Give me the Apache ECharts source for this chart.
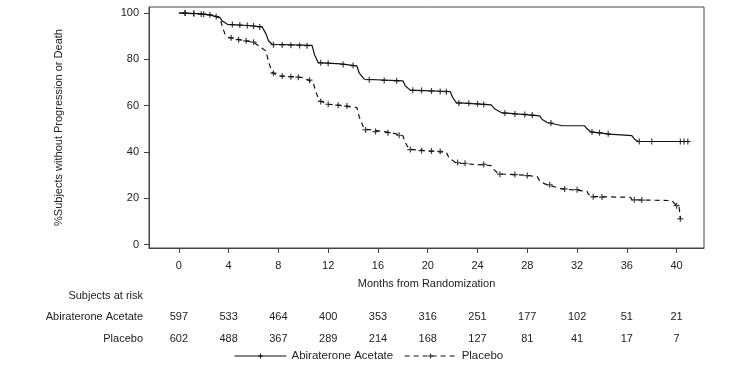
<!DOCTYPE html>
<html><head><meta charset="utf-8">
<script src="https://cdn.jsdelivr.net/npm/echarts@6/dist/echarts.min.js"></script>
<style>html,body{margin:0;padding:0;background:#fff}#c{width:747px;height:387px}</style>
</head><body><div id="c"></div>
<script>
const xTicks = [0,4,8,12,16,20,24,28,32,36,40];
const yTicks = [0,20,40,60,80,100];
const riskAbi = [597,533,464,400,353,316,251,177,102,51,21];
const riskPbo = [602,488,367,289,214,168,127,81,41,17,7];

const abiTime = [0,1.5,2.5,3.3,3.5,3.9,5.5,6.7,7.0,7.2,7.5,10.7,10.9,11.2,13.0,14.3,14.5,14.9,18.0,18.2,18.6,21.8,22.0,22.3,25.1,25.4,25.9,29.0,29.2,29.6,30.8,32.6,32.8,33.1,34.6,36.4,36.6,36.9,41.0];
const abiSurv = [100,99.7,99.2,98.0,96.5,95.1,94.6,94.0,91,88,86.5,86.0,82,78.6,78.0,77.2,74,71.4,70.7,68.5,66.7,66.1,63.5,61.3,60.3,58.5,57.0,55.6,54,52.7,51.3,51.3,50,48.7,47.7,47.0,45.6,44.5,44.5];

const pboTime = [0,1.5,2.5,3.3,3.5,3.7,4.0,5.0,6.0,7.0,7.2,7.5,8.1,10.0,10.8,11.0,11.3,12.0,14.3,14.5,14.9,17.0,18.0,18.2,18.5,20.0,21.5,21.7,22.2,22.7,25.1,25.3,25.7,27.8,28.8,29.0,29.4,30.8,31.7,32.8,32.9,33.2,36.3,36.4,39.6,40.0,40.2,40.3];
const pboSurv = [100,99.7,99.2,98.0,94,91,89.5,88.3,87.4,83.6,79,74.3,72.8,72.1,70.0,66,62.1,60.6,59.2,55,49.9,48.4,47.0,44,41.2,40.4,39.8,37.5,35.5,35.0,34.1,32.5,30.5,30.0,29.3,27.5,26.2,24.0,23.6,23.0,21.8,20.7,20.4,19.3,19.0,16.8,16.1,11.1];

const abiCensorTime = [0.5,1.2,1.8,2.5,3.0,4.3,4.9,5.5,6.0,6.5,7.6,8.3,9.0,9.7,10.3,11.4,12.0,13.2,14.0,15.3,16.5,17.5,18.8,19.5,20.3,21.0,21.5,22.5,23.3,24.0,24.5,26.2,27.0,27.8,28.4,29.9,33.2,33.8,34.5,37.0,38.0,40.3,40.6,40.9];
const abiCensorSurv = [100,99.8,99.6,99.2,98.5,95.0,94.8,94.6,94.4,94.0,86.3,86.2,86.1,86.0,85.9,78.5,78.3,77.8,77.3,71.2,70.9,70.7,66.6,66.5,66.3,66.1,66.0,61.1,61.0,60.8,60.5,56.8,56.4,56.2,55.9,52.5,48.6,48.3,47.8,44.5,44.5,44.5,44.5,44.5];
const pboCensorTime = [0.5,1.2,2.0,4.2,4.8,5.4,6.0,7.6,8.3,9.0,9.6,10.5,11.4,12.0,12.8,13.5,15.0,15.8,16.8,17.7,18.6,19.5,20.3,21.0,22.4,23.0,24.5,25.8,27.0,28.0,29.8,31.0,32.0,33.3,34.0,36.6,37.2,40.0,40.3];
const pboCensorSurv = [100,99.8,99.5,89.3,88.5,88.0,87.4,74.0,72.8,72.5,72.3,71.0,61.8,60.6,60.2,59.8,49.5,48.8,48.3,47.2,41.0,40.6,40.4,40.2,35.4,35.1,34.6,30.4,30.2,29.8,25.8,24.0,23.7,20.6,20.5,19.3,19.2,16.8,11.1];

const zip = (a,b) => a.map((v,i)=>[v,b[i]]);
const plus = 'path://M-0.6,-3H0.6V-0.6H3V0.6H0.6V3H-0.6V0.6H-3V-0.6H-0.6Z';
const FONT = "'Liberation Sans', Arial, sans-serif";
const TXT = '#222';
const AX = '#444';

const chart = echarts.init(document.getElementById('c'));
const riskAxis = (arr, off) => ({
  type:'value', gridIndex:0, position:'bottom', offset:off, min:-2.4, max:42.2,
  axisLine:{show:false,onZero:false}, axisTick:{show:false}, splitLine:{show:false},
  axisLabel:{customValues:xTicks, margin:0, fontSize:11, fontFamily:FONT, color:TXT,
    formatter:v=>{const i=xTicks.indexOf(Math.round(v)); return i>=0? String(arr[i]) : '';}}
});
chart.setOption({
  animation:false,
  textStyle:{fontFamily:FONT},
  grid:{left:149,right:43,top:7,bottom:139,show:true,borderColor:AX,borderWidth:1,backgroundColor:'transparent'},
  xAxis:[{
    type:'value', min:-2.4, max:42.2,
    axisLine:{show:true,onZero:false,lineStyle:{color:AX}},
    axisTick:{show:true,customValues:xTicks,length:5,lineStyle:{color:AX}},
    axisLabel:{customValues:xTicks,margin:12,fontSize:11,fontFamily:FONT,color:TXT},
    splitLine:{show:false},
    name:'Months from Randomization', nameLocation:'middle', nameGap:30,
    nameTextStyle:{fontSize:11,fontFamily:FONT,color:TXT}
  }, riskAxis(riskAbi,63), riskAxis(riskPbo,85)],
  yAxis:{
    type:'value', min:-1.5, max:102.6,
    axisLine:{show:true,onZero:false,lineStyle:{color:AX}},
    axisTick:{show:true,customValues:yTicks,length:5,lineStyle:{color:AX}},
    axisLabel:{customValues:yTicks,margin:10,fontSize:11,fontFamily:FONT,color:TXT},
    splitLine:{show:false},
    name:'%Subjects without Progression or Death', nameLocation:'middle', nameGap:85, nameRotate:90,
    nameTextStyle:{fontSize:11,fontFamily:FONT,color:TXT}
  },
  legend:{
    data:['Abiraterone Acetate','Placebo'], left:229, top:345, itemWidth:52, itemHeight:6, itemGap:11,
    lineStyle:{width:1},
    textStyle:{fontSize:11.5,fontFamily:FONT,color:TXT}
  },
  graphic:[
    {type:'text',right:604,top:290,style:{text:'Subjects at risk',font:'11px '+FONT,fill:TXT,textAlign:'right'}},
    {type:'text',right:604,top:311,style:{text:'Abiraterone Acetate',font:'11px '+FONT,fill:TXT,textAlign:'right'}},
    {type:'text',right:604,top:333,style:{text:'Placebo',font:'11px '+FONT,fill:TXT,textAlign:'right'}}
  ],
  series:[
    {name:'Abiraterone Acetate',type:'line',data:zip(abiTime,abiSurv),showSymbol:false,symbol:plus,symbolSize:5,
      lineStyle:{color:'#111',width:1.2},itemStyle:{color:'#111'}},
    {name:'Placebo',type:'line',data:zip(pboTime,pboSurv),showSymbol:false,symbol:plus,symbolSize:5,
      lineStyle:{color:'#111',width:1.2,type:[5,4]},itemStyle:{color:'#111'}},
    {name:'abiCensor',type:'scatter',data:zip(abiCensorTime,abiCensorSurv),symbol:plus,symbolSize:6,itemStyle:{color:'#111'}},
    {name:'pboCensor',type:'scatter',data:zip(pboCensorTime,pboCensorSurv),symbol:plus,symbolSize:6,itemStyle:{color:'#111'}}
  ]
});
</script></body></html>
